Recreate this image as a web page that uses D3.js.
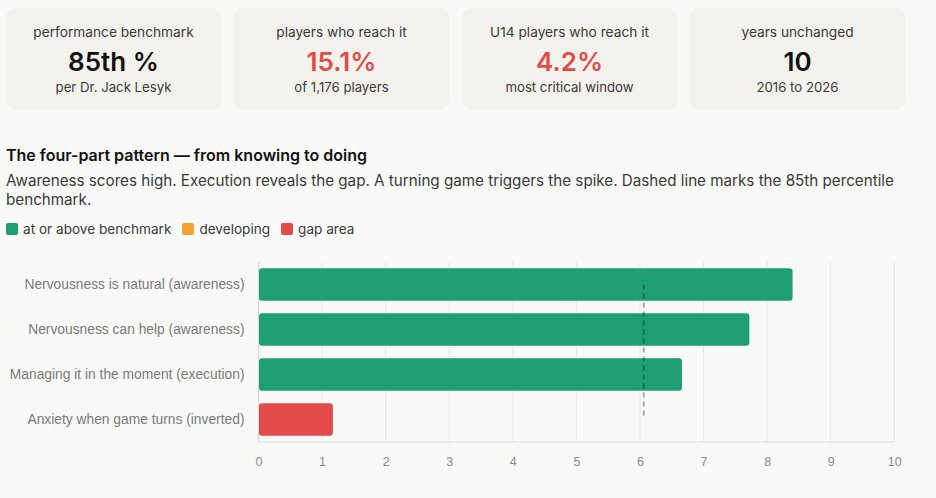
<!DOCTYPE html>
<html><head><meta charset="utf-8">
<script src="https://cdn.jsdelivr.net/npm/d3@7/dist/d3.min.js"></script>
<style>
html,body{margin:0;padding:0;background:#f9f9f7;}
body{width:936px;height:498px;overflow:hidden;font-family:Inter,"Noto Sans",sans-serif;color:#2b2b2b;position:relative;}
.cards{position:absolute;left:6px;top:8px;display:flex;gap:13px;}
.card{width:215px;height:101px;background:#f3f2ec;border-radius:9px;text-align:center;box-sizing:border-box;}
.card .lab{font-size:13.7px;color:#3a3a3a;margin-top:15px;line-height:18px;}
.card .val{font-size:26px;font-weight:600;line-height:32px;margin-top:5px;color:#111;}
.card .sub{font-size:13.2px;color:#3a3a3a;line-height:18px;margin-top:0px;}
.title{position:absolute;left:6px;top:145px;font-size:16px;font-weight:600;color:#111;}
.subtitle{position:absolute;left:6px;top:171px;width:895px;font-size:15.2px;line-height:19px;color:#3a3a3a;}
.legend{position:absolute;left:6px;top:221px;display:flex;gap:11px;font-size:13.6px;color:#3a3a3a;}
.legend .it{display:flex;align-items:center;gap:5px;}
.legend .sw{width:12px;height:12px;border-radius:2px;}
svg{position:absolute;left:0;top:0;}
</style></head>
<body>
<div class="cards"></div>
<div class="title">The four-part pattern — from knowing to doing</div>
<div class="subtitle">Awareness scores high. Execution reveals the gap. A turning game triggers the spike. Dashed line marks the 85th percentile benchmark.</div>
<div class="legend"></div>
<svg width="936" height="498"></svg>
<script>
const cardLabels = ["performance benchmark","players who reach it","U14 players who reach it","years unchanged"];
const cardValues = ["85th %","15.1%","4.2%","10"];
const cardSubs = ["per Dr. Jack Lesyk","of 1,176 players","most critical window","2016 to 2026"];
const cardAlert = [false,true,true,false];

const legendLabels = ["at or above benchmark","developing","gap area"];
const legendColors = ["#1d9e75","#f2a22f","#e24b4a"];

const categories = ["Nervousness is natural (awareness)","Nervousness can help (awareness)","Managing it in the moment (execution)","Anxiety when game turns (inverted)"];
const values = [8.4, 7.72, 6.66, 1.17];
const status = ["at or above benchmark","at or above benchmark","at or above benchmark","gap area"];
const benchmark = 6.06;
const xTicks = [0,1,2,3,4,5,6,7,8,9,10];

(function(){
const cards = d3.select(".cards").selectAll(".card").data(cardLabels).join("div").attr("class","card");
cards.append("div").attr("class","lab").text(d=>d);
cards.append("div").attr("class","val").style("color",(d,i)=>cardAlert[i]?"#e24b4a":"#111").text((d,i)=>cardValues[i]);
cards.append("div").attr("class","sub").text((d,i)=>cardSubs[i]);

const li = d3.select(".legend").selectAll(".it").data(legendLabels).join("div").attr("class","it");
li.append("div").attr("class","sw").style("background",(d,i)=>legendColors[i]);
li.append("span").text(d=>d);

const color = d3.scaleOrdinal().domain(legendLabels).range(legendColors);
const svg = d3.select("svg");
const pl = 258.5, pr = 894.3, pt = 262, pb = 442;
const x = d3.scaleLinear().domain([0,10]).range([pl,pr]);
const y = d3.scaleBand().domain(categories).range([pt,pb]).paddingInner(0.28).paddingOuter(0.14);

svg.append("g").selectAll("line").data(xTicks).join("line")
  .attr("x1",d=>x(d)).attr("x2",d=>x(d)).attr("y1",pt).attr("y2",pb)
  .attr("stroke","#e6e6e4").attr("stroke-width",1);
svg.append("line").attr("x1",pl).attr("x2",pr).attr("y1",pb).attr("y2",pb).attr("stroke","#dcdcda");
svg.append("line").attr("x1",pl).attr("x2",pl).attr("y1",pt).attr("y2",pb).attr("stroke","#d6d6d4");

const xa = svg.append("g").attr("transform",`translate(0,${pb})`)
  .call(d3.axisBottom(x).tickValues(xTicks).tickSize(0).tickPadding(15).tickFormat(d3.format("d")));
xa.select(".domain").remove();
xa.selectAll("text").attr("font-family","'Liberation Sans',Arial,sans-serif").attr("font-size",12.5).attr("fill","#8a8a8a");

const ya = svg.append("g").attr("transform",`translate(${pl},0)`)
  .call(d3.axisLeft(y).tickSize(0).tickPadding(14));
ya.select(".domain").remove();
ya.selectAll("text").attr("font-family","'Liberation Sans',Arial,sans-serif").attr("font-size",13.8).attr("fill","#7a7a7a");

svg.append("g").selectAll("rect").data(categories).join("rect")
  .attr("x",x(0)+0.5).attr("y",d=>y(d)).attr("height",y.bandwidth())
  .attr("width",(d,i)=>x(values[i])-x(0)-0.5).attr("rx",3)
  .attr("fill",(d,i)=>color(status[i]));

svg.append("line").attr("x1",x(benchmark)).attr("x2",x(benchmark))
  .attr("y1",y(categories[0])+y.bandwidth()/2).attr("y2",y(categories[3])+y.bandwidth()/2)
  .attr("stroke","rgba(0,0,0,0.32)").attr("stroke-width",2).attr("stroke-dasharray","5,4");
})();
</script>
</body></html>
